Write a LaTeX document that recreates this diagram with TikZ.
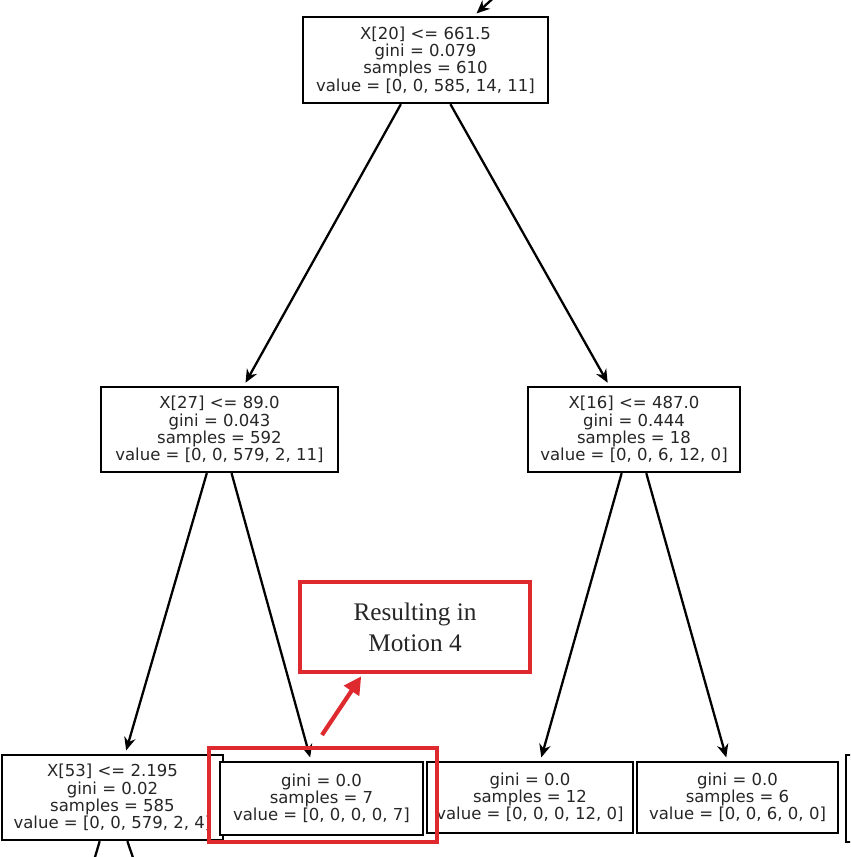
\documentclass[tikz,border=0pt]{standalone}
\usepackage{fontspec}
\newfontfamily\treefont{DejaVu Sans}
\newfontfamily\notefont{Liberation Serif}
\usetikzlibrary{arrows.meta}
\definecolor{markred}{RGB}{222,42,46}
\tikzset{>={Stealth[length=7.5pt,width=6.5pt]}}
\tikzset{
  treebox/.style={draw, line width=1.35pt, fill=white, align=center, inner sep=0pt,
    font=\treefont\fontsize{9.4}{9.8}\selectfont, text=black!85},
  edge/.style={line width=1.3pt, ->, shorten >=2pt},
  redbox/.style={draw=markred, line width=2.4pt, inner sep=0pt},
}

\begin{document}
\begin{tikzpicture}[x=0.02cm, y=-0.02cm]
            \useasboundingbox (0,0) rectangle (850,857);
            \clip (0,0) rectangle (850,857);
            % tree nodes
            \node[treebox, minimum width=4.9cm, minimum height=1.72cm] (root) at (425.5,60)
                {X[20] <= 661.5\\gini = 0.079\\samples = 610\\value = [0, 0, 585, 14, 11]};
            \node[treebox, minimum width=4.74cm, minimum height=1.7cm] (lft) at (219.5,429.5)
                {X[27] <= 89.0\\gini = 0.043\\samples = 592\\value = [0, 0, 579, 2, 11]};
            \node[treebox, minimum width=4.24cm, minimum height=1.7cm] (rgt) at (634,429.5)
                {X[16] <= 487.0\\gini = 0.444\\samples = 18\\value = [0, 0, 6, 12, 0]};
            \node[treebox, minimum width=4.42cm, minimum height=1.7cm] (lftlft) at (112.5,797.5)
                {X[53] <= 2.195\\gini = 0.02\\samples = 585\\value = [0, 0, 579, 2, 4]};
            \node[treebox, minimum width=4.06cm, minimum height=1.46cm] (lftrgt) at (321.5,798.5)
                {gini = 0.0\\samples = 7\\value = [0, 0, 0, 0, 7]};
            \node[treebox, minimum width=4.12cm, minimum height=1.42cm] (rgtlft) at (530,797.5)
                {gini = 0.0\\samples = 12\\value = [0, 0, 0, 12, 0]};
            \node[treebox, minimum width=4.02cm, minimum height=1.42cm] (rgtrgt) at (737.5,797.5)
                {gini = 0.0\\samples = 6\\value = [0, 0, 6, 0, 0]};
            \node[treebox, minimum width=4.08cm, minimum height=1.74cm] (next) at (948,798.5) {};
            % ends that leave the picture
            \coordinate (up) at (557,-60);
            \coordinate (downl) at (82.4,900);
            \coordinate (downr) at (147.4,900);
            \draw[edge] (up) -- (root);
            \draw[edge] (root) -- (lft);
            \draw[edge] (root) -- (rgt);
            \draw[edge] (lft) -- (lftlft);
            \draw[edge] (lft) -- (lftrgt);
            \draw[edge] (rgt) -- (rgtlft);
            \draw[edge] (rgt) -- (rgtrgt);
            \draw[line width=1.3pt] (lftlft) -- (downl);
            \draw[line width=1.3pt] (lftlft) -- (downr);
            % highlight
            \node[redbox, minimum width=4.56cm, minimum height=1.88cm] (mark) at (323,795) {};
            \node[redbox, minimum width=4.6cm, minimum height=1.8cm, align=center,
                font=\notefont\fontsize{14.4}{17.5}\selectfont, text=black!85] (note) at (415,627)
                {Resulting in\\Motion 4};
            \coordinate (tail) at (322,735);
            \draw[markred, line width=2.4pt, -{Triangle[length=10pt,width=10pt]}, shorten >=1.5pt] (tail) -- (note.222);
        \end{tikzpicture}
\end{document}
